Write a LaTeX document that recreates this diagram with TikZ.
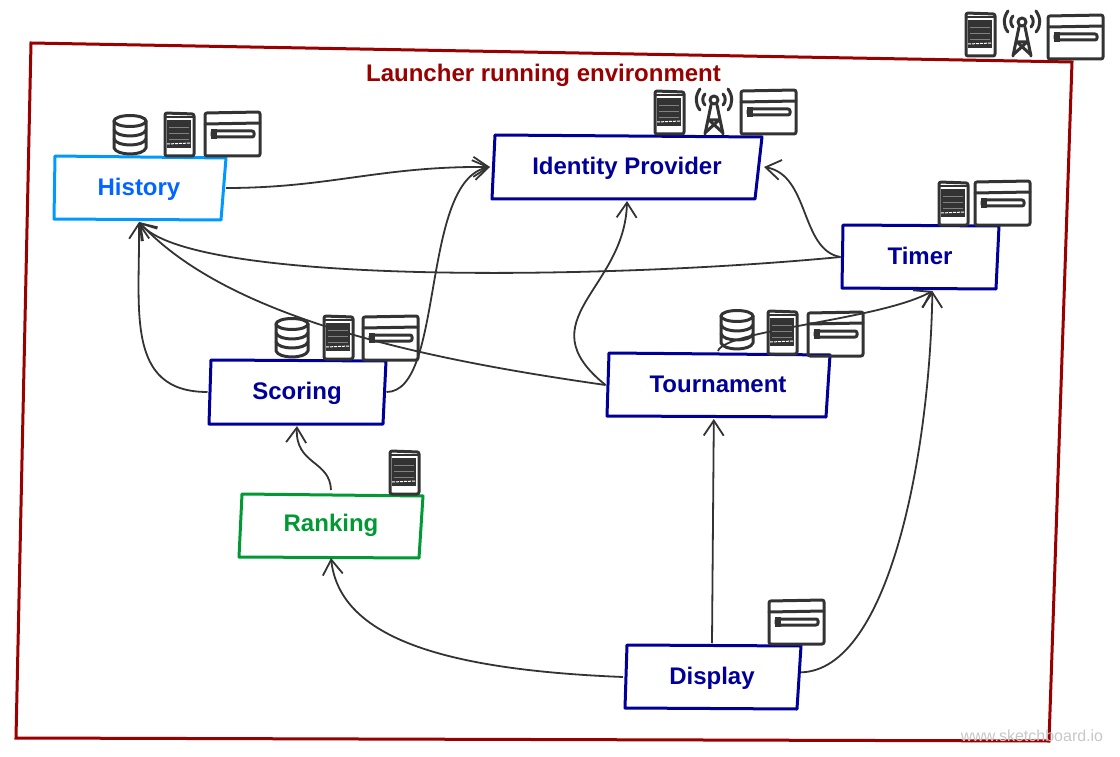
\documentclass[tikz,border=0pt]{standalone}
\usepackage{fontspec}
\setmainfont{Liberation Sans}
\usetikzlibrary{positioning, arrows.meta}
\definecolor{framered}{HTML}{990000}
\definecolor{boxblue}{HTML}{000099}
\definecolor{skyblue}{HTML}{0099FF}
\definecolor{textblue}{HTML}{0066FF}
\definecolor{boxgreen}{HTML}{009933}
\definecolor{inkgrey}{HTML}{333333}
\begin{document}
\begin{tikzpicture}[x=1pt, y=-1pt]
      % Define styles for nodes
      \tikzset{
        namebox/.style={rectangle, minimum height=64pt, inner sep=0pt, outer sep=2pt, text height=15pt, text depth=0pt, font=\fontsize{24}{28}\selectfont\bfseries, text=boxblue},
        outline/.style={line width=3pt, draw=boxblue, line join=round},
        link/.style={draw=inkgrey, line width=1.8pt, -{Straight Barb[length=15pt, width=20pt]}},
        icon/.style={draw=inkgrey, line width=3pt, line join=round, line cap=round},
        serverpic/.pic={
          \fill[inkgrey] (3,8) rectangle (27,36);
          \draw[gray, line width=0.8pt] (5,15) -- (25,15) (5,21) -- (25,21) (5,27) -- (25,27);
          \draw[white, line width=1pt, dash pattern=on 3pt off 1pt] (3,32) -- (27,31);
          \draw[icon, rounded corners=2pt] (1,1) -- (30,2) -- (30,44) -- (1,44) -- cycle;
          \draw[inkgrey, line width=1.5pt] (2,5) -- (29,5);
        },
        cardpic/.pic={
          \draw[icon, rounded corners=2pt] (1,2) -- (56,1) -- (56,45) -- (1,45) -- cycle;
          \draw[icon] (1,13) -- (56,12);
          \draw[icon, rounded corners=2pt] (8,20) rectangle (50,26);
          \fill[inkgrey] (7,18) rectangle (13,28);
        },
        dbpic/.pic={
          \draw[icon] (17,6) ellipse [x radius=16, y radius=5.5];
          \draw[icon] (1,6) -- (1,33) .. controls (4,41) and (30,41) .. (33,33) -- (33,6);
          \draw[icon] (1,15) .. controls (4,23) and (30,23) .. (33,15);
          \draw[icon] (1,24) .. controls (4,32) and (30,32) .. (33,24);
        },
        antennapic/.pic={
          \draw[icon] (19,13) circle [radius=4];
          \draw[icon] (16,18) -- (10,47) (22,18) -- (28,47);
          \draw[icon] (14,33) -- (24,33) -- (11,45) (14,33) -- (27,45);
          \draw[icon] (5,2) .. controls (0,9) and (0,17) .. (5,23);
          \draw[icon] (10,7) .. controls (7,10) and (7,15) .. (10,18);
          \draw[icon] (33,2) .. controls (38,9) and (38,17) .. (33,23);
          \draw[icon] (28,7) .. controls (31,10) and (31,15) .. (28,18);
        }
      }
      \useasboundingbox (0,0) rectangle (1120,757);

      % Environment frame and its title
      \draw[line width=3pt, draw=framered] (31,43) -- (1072,62) -- (1049,741) -- (16,738) -- cycle;
      \node[font=\fontsize{24}{28}\selectfont\bfseries, text=framered] (envtitle) at (543.5,75) {Launcher running environment};

      % Box outlines
      \draw[outline, draw=skyblue] (55,156) -- (226,158) -- (221,220) -- (54,219) -- cycle;
      \draw[outline] (495,135) -- (762,137) -- (755,199) -- (492,199) -- cycle;
      \draw[outline] (843,225) -- (999,226) -- (996,289) -- (842,288) -- cycle;
      \draw[outline] (211,360) -- (386,361) -- (383,424) -- (209,424) -- cycle;
      \draw[outline] (609,353) -- (830,355) -- (826,417) -- (607,416) -- cycle;
      \draw[outline, draw=boxgreen] (242,494) -- (423,496) -- (419,558) -- (239,557) -- cycle;
      \draw[outline] (627,645) -- (801,646) -- (797,709) -- (625,708) -- cycle;

      % Create the boxes
      \node[namebox, minimum width=270pt] (identity) at (627,167) {Identity Provider};
      \node[namebox, minimum width=155pt, below right=22pt and 76.5pt of identity] (timer) {Timer};
      \node[namebox, minimum width=221pt, below left=60pt and 10pt of timer] (tournament) {Tournament};
      \node[namebox, minimum width=175pt, left=219pt of tournament, yshift=-7pt] (scoring) {Scoring};
      \node[namebox, minimum width=170pt, above=136pt of scoring, xshift=-158pt, text=textblue] (history) {History};
      \node[namebox, minimum width=182pt, below=64pt of scoring, xshift=34pt, text=boxgreen] (ranking) {Ranking};
      \node[namebox, minimum width=174pt, below=224pt of tournament, xshift=-6pt] (display) {Display};

      % Draw the edges connecting the boxes
      \draw[link] (history.east) .. controls (330,188) and (380,166) .. (identity.west);
      \draw[link] (scoring.east) .. controls (445,392) and (420,180) .. (identity.west);
      \draw[link] (scoring.west) .. controls (125,392) and (140,310) .. (history.south);
      \draw[link] (tournament.west) .. controls (430,360) and (230,320) .. (history.south);
      \draw[link] (tournament.west) .. controls (525,320) and (625,290) .. (identity.south);
      \draw[link] (timer.west) .. controls (600,280) and (190,285) .. (history.south);
      \draw[link] (timer.west) .. controls (800,250) and (810,175) .. (identity.east);
      \draw[link] (tournament.north) .. controls (725,330) and (880,320) .. (timer.-70);
      \draw[link] (ranking.north) .. controls (330,460) and (295,465) .. (scoring.south);
      \draw[link] (display.west) .. controls (450,670) and (340,640) .. (ranking.south);
      \draw[link] (display.north) -- (tournament.-97);
      \draw[link] (display.3) .. controls (890,670) and (930,450) .. (timer.-70);

      % Add icons next to the boxes
      \pic at (113,115) {dbpic};
      \pic at (164,112) {serverpic};
      \pic at (204,111) {cardpic};
      \pic at (654,90) {serverpic};
      \pic at (695,87) {antennapic};
      \pic at (740,89) {cardpic};
      \pic at (965,12) {serverpic};
      \pic at (1003,9) {antennapic};
      \pic at (1047,14) {cardpic};
      \pic at (938,181) {serverpic};
      \pic at (974,180) {cardpic};
      \pic at (275,318) {dbpic};
      \pic at (323,315) {serverpic};
      \pic at (362,315) {cardpic};
      \pic at (720,310) {dbpic};
      \pic at (767,310) {serverpic};
      \pic at (807,311) {cardpic};
      \pic at (389,450) {serverpic};
      \pic at (768,599) {cardpic};

      % Watermark
      \node[font=\fontsize{16}{18}\selectfont, text=black!22] (watermark) at (1032,736) {www.sketchboard.io};
    \end{tikzpicture}
\end{document}
